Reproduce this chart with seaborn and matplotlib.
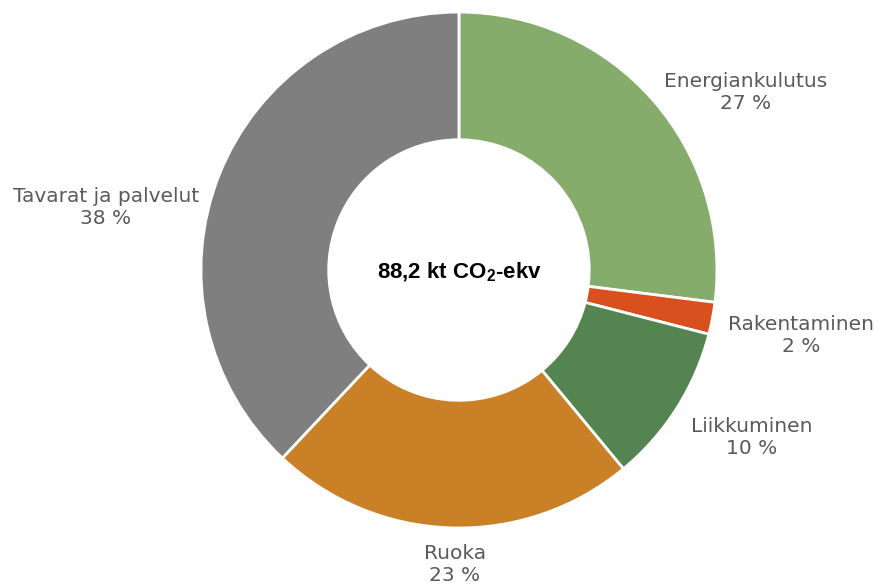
import matplotlib as mpl
import matplotlib.pyplot as plt
import seaborn as sns

sns.set_theme(style="white")
plt.rcParams['font.family'] = ['DejaVu Sans']
mpl.rcParams['mathtext.fontset'] = 'custom'
mpl.rcParams['mathtext.bf'] = 'Liberation Sans:bold'

# data
categories = ['Energiankulutus', 'Rakentaminen', 'Liikkuminen', 'Ruoka', 'Tavarat ja palvelut']
shares = [27, 2, 10, 23, 38]
colors = ['#86ac6c', '#d9501f', '#548550', '#c98026', '#7f7f7f']
total_label = r'88,2 kt CO$_{\mathbf{2}}$-ekv'

# label positions (axes data coords, pie radius = 1)
label_pos = [(1.112, 0.69), (1.326, -0.252), (1.136, -0.651), (-0.016, -1.14), (-1.368, 0.244)]

fig = plt.figure(figsize=(8.85, 5.87), dpi=100)
ax = fig.add_axes([0.2271, 0.1005, 0.583, 0.879])

wedges, _ = ax.pie(shares, colors=colors, startangle=90, counterclock=False,
                   radius=1, wedgeprops=dict(width=0.495, edgecolor='white', linewidth=2))

for name, val, (x, y) in zip(categories, shares, label_pos):
    ax.text(x, y, f'{name}\n{val} %', ha='center', va='center', fontsize=14.5,
            color='#5a5a5a', linespacing=1.2)

ax.text(0, -0.01, total_label, ha='center', va='center', fontsize=16, fontweight='bold',
        color='black', family=['Liberation Sans', 'DejaVu Sans'])

ax.set_xlim(-1, 1)
ax.set_ylim(-1, 1)
ax.set_aspect('equal')
ax.axis('off')

plt.savefig('out.png', dpi=100)
